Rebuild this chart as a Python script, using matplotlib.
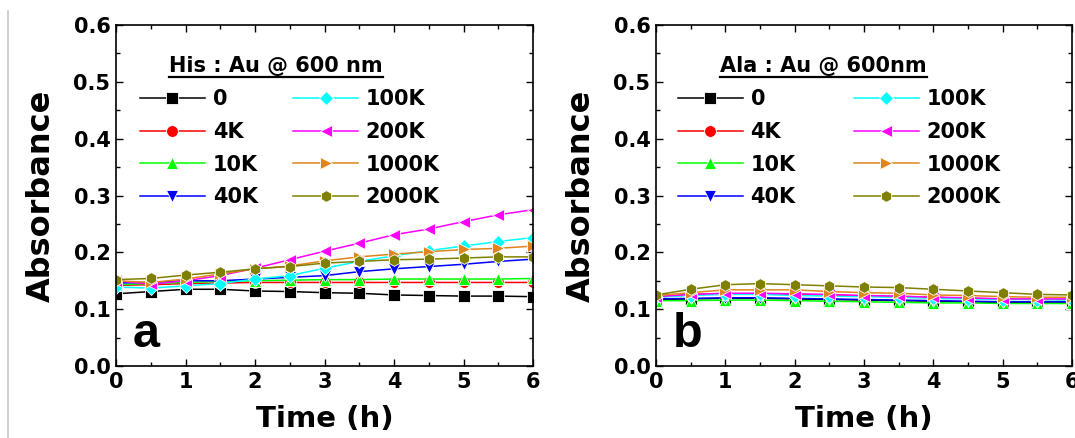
import matplotlib
matplotlib.use("Agg")
import matplotlib.pyplot as plt
from matplotlib.lines import Line2D
import numpy as np

plt.rcParams['font.family'] = ['DejaVu Sans']
plt.rcParams['font.weight'] = 'bold'

time_h = [0, 0.5, 1, 1.5, 2, 2.5, 3, 3.5, 4, 4.5, 5, 5.5, 6]
labels = ['0', '4K', '10K', '40K', '100K', '200K', '1000K', '2000K']
colors = ['#000000', '#ff0000', '#00ff00', '#0000ff', '#00ffff', '#ff00ff', '#e0841c', '#808000']
markers = ['s', 'o', '^', 'v', 'D', '<', '>', 'h']

his = {
    '0':     [0.127, 0.131, 0.135, 0.135, 0.132, 0.131, 0.129, 0.128, 0.125, 0.124, 0.123, 0.123, 0.122],
    '4K':    [0.142, 0.143, 0.145, 0.146, 0.147, 0.147, 0.147, 0.147, 0.147, 0.147, 0.147, 0.147, 0.147],
    '10K':   [0.143, 0.145, 0.147, 0.149, 0.150, 0.151, 0.152, 0.152, 0.153, 0.153, 0.153, 0.153, 0.154],
    '40K':   [0.146, 0.147, 0.150, 0.150, 0.153, 0.156, 0.159, 0.166, 0.171, 0.175, 0.179, 0.184, 0.188],
    '100K':  [0.139, 0.137, 0.141, 0.145, 0.153, 0.159, 0.172, 0.184, 0.194, 0.203, 0.211, 0.219, 0.226],
    '200K':  [0.150, 0.144, 0.150, 0.159, 0.172, 0.187, 0.202, 0.216, 0.231, 0.241, 0.254, 0.266, 0.275],
    '1000K': [0.150, 0.147, 0.153, 0.162, 0.171, 0.176, 0.185, 0.192, 0.197, 0.201, 0.205, 0.207, 0.211],
    '2000K': [0.152, 0.154, 0.160, 0.165, 0.171, 0.175, 0.181, 0.184, 0.187, 0.188, 0.190, 0.192, 0.192],
}

ala = {
    '0':     [0.117, 0.118, 0.119, 0.119, 0.118, 0.117, 0.116, 0.115, 0.114, 0.113, 0.112, 0.111, 0.111],
    '4K':    [0.121, 0.126, 0.127, 0.127, 0.126, 0.125, 0.123, 0.122, 0.121, 0.119, 0.118, 0.117, 0.117],
    '10K':   [0.115, 0.115, 0.116, 0.116, 0.115, 0.114, 0.113, 0.112, 0.111, 0.111, 0.110, 0.110, 0.110],
    '40K':   [0.118, 0.119, 0.120, 0.120, 0.119, 0.118, 0.117, 0.116, 0.115, 0.114, 0.113, 0.113, 0.113],
    '100K':  [0.121, 0.124, 0.126, 0.126, 0.124, 0.123, 0.122, 0.121, 0.119, 0.118, 0.117, 0.117, 0.116],
    '200K':  [0.122, 0.126, 0.128, 0.128, 0.127, 0.126, 0.124, 0.123, 0.121, 0.120, 0.118, 0.118, 0.118],
    '1000K': [0.124, 0.129, 0.134, 0.134, 0.134, 0.131, 0.129, 0.128, 0.125, 0.124, 0.122, 0.121, 0.121],
    '2000K': [0.125, 0.135, 0.143, 0.145, 0.143, 0.141, 0.139, 0.138, 0.135, 0.132, 0.129, 0.126, 0.125],
}

titles = ['His : Au @ 600 nm', 'Ala : Au @ 600nm']
panel_letters = ['a', 'b']
xticks = [0, 1, 2, 3, 4, 5, 6]
yticks = [0.0, 0.1, 0.2, 0.3, 0.4, 0.5, 0.6]

W, H = 1075, 438
fig = plt.figure(figsize=(W / 100, H / 100), dpi=100)

def px_rect(l, t, r, b):
    return [l / W, 1 - b / H, (r - l) / W, (b - t) / H]

axes = [fig.add_axes(px_rect(116, 25, 533, 366)),
        fig.add_axes(px_rect(656, 25, 1072, 366))]

# light gray vertical separator line at left
fig.add_artist(Line2D([8 / W, 8 / W], [0, 1 - 11 / H], color='#c8c8c8', lw=1.2))

leg_opts = [dict(x=0.058, colsp=1.7), dict(x=0.053, colsp=2.8)]
title_x = [0.128, 0.154]

title_texts = []
for i, (ax, data) in enumerate(zip(axes, [his, ala])):
    for lab, c, m in zip(labels, colors, markers):
        ms = 7.5 if m == 'D' else 8.5
        ax.plot(time_h, data[lab], color=c, marker=m, ms=ms, lw=1.1,
                mec='white', mew=0.6, label=lab)
    ax.set_xlim(0, 6)
    ax.set_ylim(0, 0.6)
    ax.set_xticks(xticks)
    ax.set_yticks(yticks)
    ax.set_xticklabels([str(v) for v in xticks])
    ax.set_yticklabels(['%.1f' % v for v in yticks])
    ax.set_xticks(np.arange(0.5, 6, 1.0), minor=True)
    ax.set_yticks(np.arange(0.05, 0.6, 0.1), minor=True)
    ax.tick_params(which='both', direction='in', top=True, right=True, width=1.0)
    ax.tick_params(which='major', length=5, labelsize=15, pad=4)
    ax.tick_params(which='minor', length=3)
    for lbl in ax.get_xticklabels() + ax.get_yticklabels():
        lbl.set_fontweight('bold')
    for s in ax.spines.values():
        s.set_linewidth(1.2)
    ax.set_xlabel('Time (h)', fontsize=21, fontweight='bold', labelpad=10)
    ax.set_ylabel('Absorbance', fontsize=23, fontweight='bold', labelpad=12)
    lo = leg_opts[i]
    ax.legend(ncol=2, loc='upper left', bbox_to_anchor=(lo['x'], 0.812),
              frameon=False, borderpad=0, borderaxespad=0,
              handlelength=3.1, handletextpad=0.38, columnspacing=lo['colsp'],
              labelspacing=0.61, prop={'size': 15, 'weight': 'bold'})
    t = ax.text(title_x[i], 0.861, titles[i], transform=ax.transAxes, fontsize=15,
                fontweight='bold', ha='left', va='baseline')
    title_texts.append(t)
    ax.text(0.04, 0.055, panel_letters[i], transform=ax.transAxes, fontsize=35,
            fontweight='bold', ha='left', va='baseline', family='Liberation Sans')

fig.canvas.draw()
r = fig.canvas.get_renderer()
for t in title_texts:
    bb = t.get_window_extent(renderer=r)
    y = bb.y0 - 1.0
    fig.add_artist(Line2D([bb.x0 / W, bb.x1 / W], [y / H, y / H], color='black', lw=1.6))

fig.savefig('out.png', dpi=100)
